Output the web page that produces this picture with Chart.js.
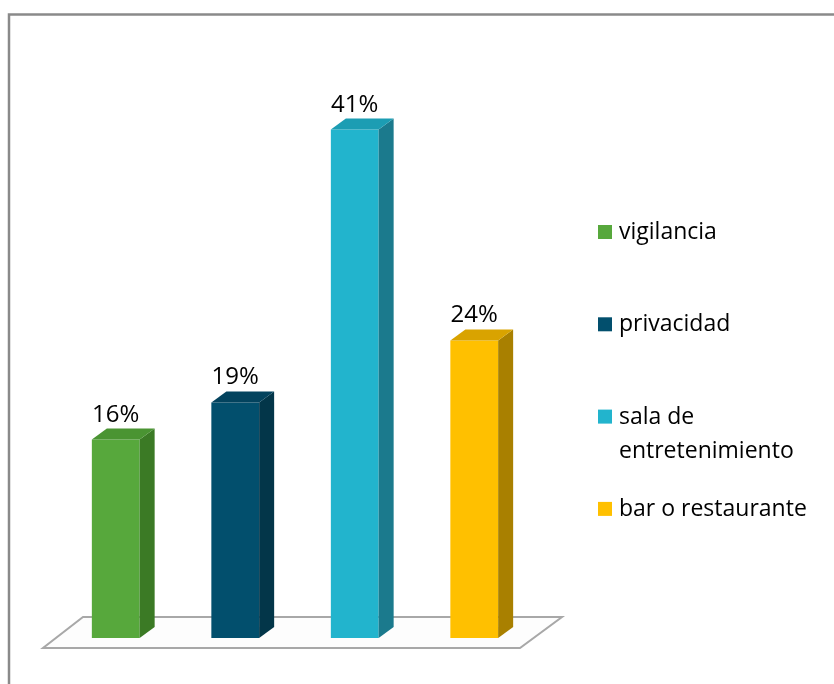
<!DOCTYPE html>
<html>
<head>
<meta charset="utf-8">
<script src="https://cdn.jsdelivr.net/npm/chart.js@4/dist/chart.umd.min.js"></script>
<style>
  html, body { margin: 0; padding: 0; background: #fff; }
  #wrap { position: relative; width: 834px; height: 684px; }
</style>
</head>
<body>
<div id="wrap"><canvas id="c" width="834" height="684"></canvas></div>
<script>
// Survey results (percent of respondents)
const categories = ['vigilancia', 'privacidad', 'sala de entretenimiento', 'bar o restaurante'];
const percentages = [16, 19, 41, 24];
const valueLabels = ['16%', '19%', '41%', '24%'];

// Face colours for each bar: front, top, side
const frontColors = ['#57a83c', '#024f6d', '#22b4cd', '#ffc000'];
const topColors   = ['#4a9432', '#03435e', '#1c9db3', '#d9a300'];
const sideColors  = ['#3b7a25', '#033649', '#1b7a8d', '#a98000'];

const FONT = '"Open Sans", "DejaVu Sans", sans-serif';
const DEPTH_X = 15, DEPTH_Y = -11;

const decor = {
  id: 'decor',
  beforeDraw(chart) {
    const ctx = chart.ctx;
    ctx.save();
    ctx.fillStyle = '#ffffff';
    ctx.fillRect(0, 0, chart.width, chart.height);
    // outer frame (runs off the right and bottom edges)
    ctx.strokeStyle = '#8a8a8a';
    ctx.lineWidth = 2.5;
    ctx.strokeRect(9, 14.5, chart.width + 20, chart.height + 20);
    ctx.restore();
  },
  beforeDatasetsDraw(chart) {
    // perspective floor under the bars
    const ctx = chart.ctx;
    const area = chart.chartArea;
    const y0 = chart.scales.y.getPixelForValue(0);
    const front = y0 + 10, back = y0 - 21;
    ctx.save();
    ctx.beginPath();
    ctx.moveTo(area.left - 13, front);
    ctx.lineTo(area.right - 14, front);
    ctx.lineTo(area.right + 28, back);
    ctx.lineTo(area.left + 27, back);
    ctx.closePath();
    ctx.fillStyle = '#fdfdfd';
    ctx.fill();
    ctx.strokeStyle = '#a8a8a8';
    ctx.lineWidth = 2;
    ctx.stroke();
    ctx.restore();
  },
  afterDatasetsDraw(chart) {
    const ctx = chart.ctx;
    const meta = chart.getDatasetMeta(0);
    ctx.save();
    meta.data.forEach((bar, i) => {
      const p = bar.getProps(['x', 'y', 'base', 'width'], true);
      const l = p.x - p.width / 2, r = p.x + p.width / 2;
      const t = p.y, b = p.base;
      // side face
      ctx.beginPath();
      ctx.moveTo(r, t);
      ctx.lineTo(r + DEPTH_X, t + DEPTH_Y);
      ctx.lineTo(r + DEPTH_X, b + DEPTH_Y);
      ctx.lineTo(r, b);
      ctx.closePath();
      ctx.fillStyle = sideColors[i];
      ctx.fill();
      // top face
      ctx.beginPath();
      ctx.moveTo(l, t);
      ctx.lineTo(l + DEPTH_X, t + DEPTH_Y);
      ctx.lineTo(r + DEPTH_X, t + DEPTH_Y);
      ctx.lineTo(r, t);
      ctx.closePath();
      ctx.fillStyle = topColors[i];
      ctx.fill();
      // value label
      ctx.fillStyle = '#000';
      ctx.font = '24px ' + FONT;
      ctx.textAlign = 'center';
      ctx.textBaseline = 'alphabetic';
      ctx.fillText(valueLabels[i], p.x, t - 18);
    });

    // legend on the right
    const lx = 598, ly0 = 232, step = 92.3, lineH = 34, maxW = 205;
    ctx.font = '23px ' + FONT;
    ctx.textAlign = 'left';
    categories.forEach((name, i) => {
      const cy = ly0 + i * step;
      ctx.fillStyle = frontColors[i];
      ctx.fillRect(lx, cy - 7, 14, 14);
      // wrap long entries
      const words = name.split(' ');
      const lines = [];
      let cur = '';
      words.forEach(w => {
        const test = cur ? cur + ' ' + w : w;
        if (ctx.measureText(test).width > maxW && cur) { lines.push(cur); cur = w; }
        else cur = test;
      });
      lines.push(cur);
      ctx.fillStyle = '#000';
      lines.forEach((ln, k) => ctx.fillText(ln, lx + 21, cy + 7 + k * lineH));
    });
    ctx.restore();
  }
};

new Chart(document.getElementById('c'), {
  type: 'bar',
  data: {
    labels: categories,
    datasets: [{
      data: percentages,
      backgroundColor: frontColors,
      borderWidth: 0,
      categoryPercentage: 1,
      barPercentage: 0.4
    }]
  },
  options: {
    responsive: false,
    animation: false,
    devicePixelRatio: 1,
    layout: { padding: { left: 56, right: 300, top: 80, bottom: 46 } },
    scales: {
      x: { display: false },
      y: { display: false, min: 0, max: 45 }
    },
    plugins: {
      legend: { display: false },
      tooltip: { enabled: false }
    }
  },
  plugins: [decor]
});
</script>
</body>
</html>
